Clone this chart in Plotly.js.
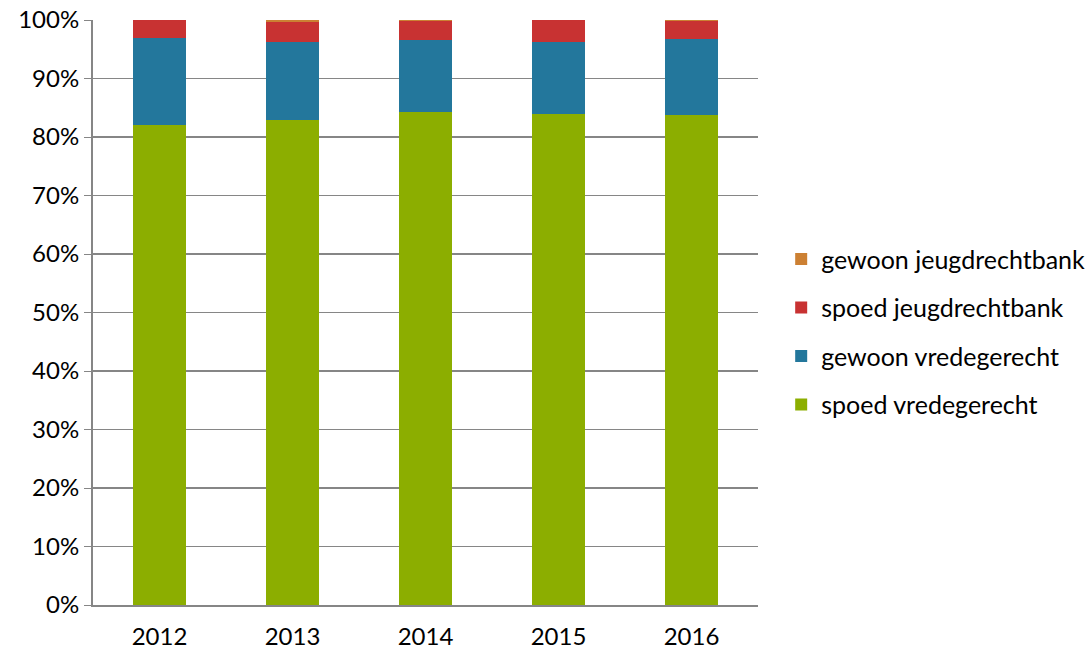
<!DOCTYPE html>
<html>
<head>
<meta charset="utf-8">
<script src="https://cdn.plot.ly/plotly-3.0.1.min.js"></script>
<style>html,body{margin:0;padding:0;background:#fff;}#chart{width:1088px;height:657px;}</style>
</head>
<body>
<div id="chart"></div>
<script>
const years = ['2012', '2013', '2014', '2015', '2016'];
const spoedVredegerecht = [82.0, 82.9, 84.3, 83.9, 83.7];
const gewoonVredegerecht = [14.9, 13.4, 12.2, 12.35, 13.05];
const spoedJeugdrechtbank = [3.05, 3.4, 3.35, 3.7, 3.15];
const gewoonJeugdrechtbank = [0.05, 0.3, 0.15, 0.05, 0.1];
const yTickVals = [0, 10, 20, 30, 40, 50, 60, 70, 80, 90, 100];
const yTickText = ['0%', '10%', '20%', '30%', '40%', '50%', '60%', '70%', '80%', '90%', '100%'];

const font = 'Lato, "Open Sans", sans-serif';
function tr(name, vals, color, rank) {
  return {type: 'bar', name: name, legendgroup: name, legendrank: rank, x: years, y: vals,
          marker: {color: color, line: {width: 0}}, hoverinfo: 'name+y'};
}
const data = [
  tr('spoed vredegerecht', spoedVredegerecht, '#8cae00', 4),
  tr('gewoon vredegerecht', gewoonVredegerecht, '#23779c', 3),
  tr('spoed jeugdrechtbank', spoedJeugdrechtbank, '#c83232', 2),
  tr('gewoon jeugdrechtbank', gewoonJeugdrechtbank, '#cc8033', 1)
];
const layout = {
  width: 1088, height: 657,
  barmode: 'stack', bargap: 0.6,
  paper_bgcolor: '#fff', plot_bgcolor: '#fff',
  margin: {l: 93, r: 330, t: 20, b: 52},
  font: {family: font, size: 24, color: '#000'},
  showlegend: true,
  legend: {traceorder: 'grouped', xref: 'container', yref: 'container',
           x: 0.718, xanchor: 'left', y: 0.495, yanchor: 'middle',
           font: {family: font, size: 25, color: '#000'}, tracegroupgap: 13, itemwidth: 30},
  xaxis: {type: 'category', showgrid: false, showline: true, linecolor: '#868686', linewidth: 2,
          ticks: '', tickfont: {family: font, size: 24}, ticklabelstandoff: 9, automargin: false},
  yaxis: {range: [0, 100], tickvals: yTickVals, ticktext: yTickText, showgrid: true,
          gridcolor: '#868686', gridwidth: 1.2, showline: true, linecolor: '#868686', linewidth: 2,
          ticks: 'outside', ticklen: 7, tickcolor: '#868686', tickfont: {family: font, size: 24},
          zeroline: false, automargin: false}
};
Plotly.newPlot('chart', data, layout, {displayModeBar: false, staticPlot: true});
</script>
</body>
</html>
